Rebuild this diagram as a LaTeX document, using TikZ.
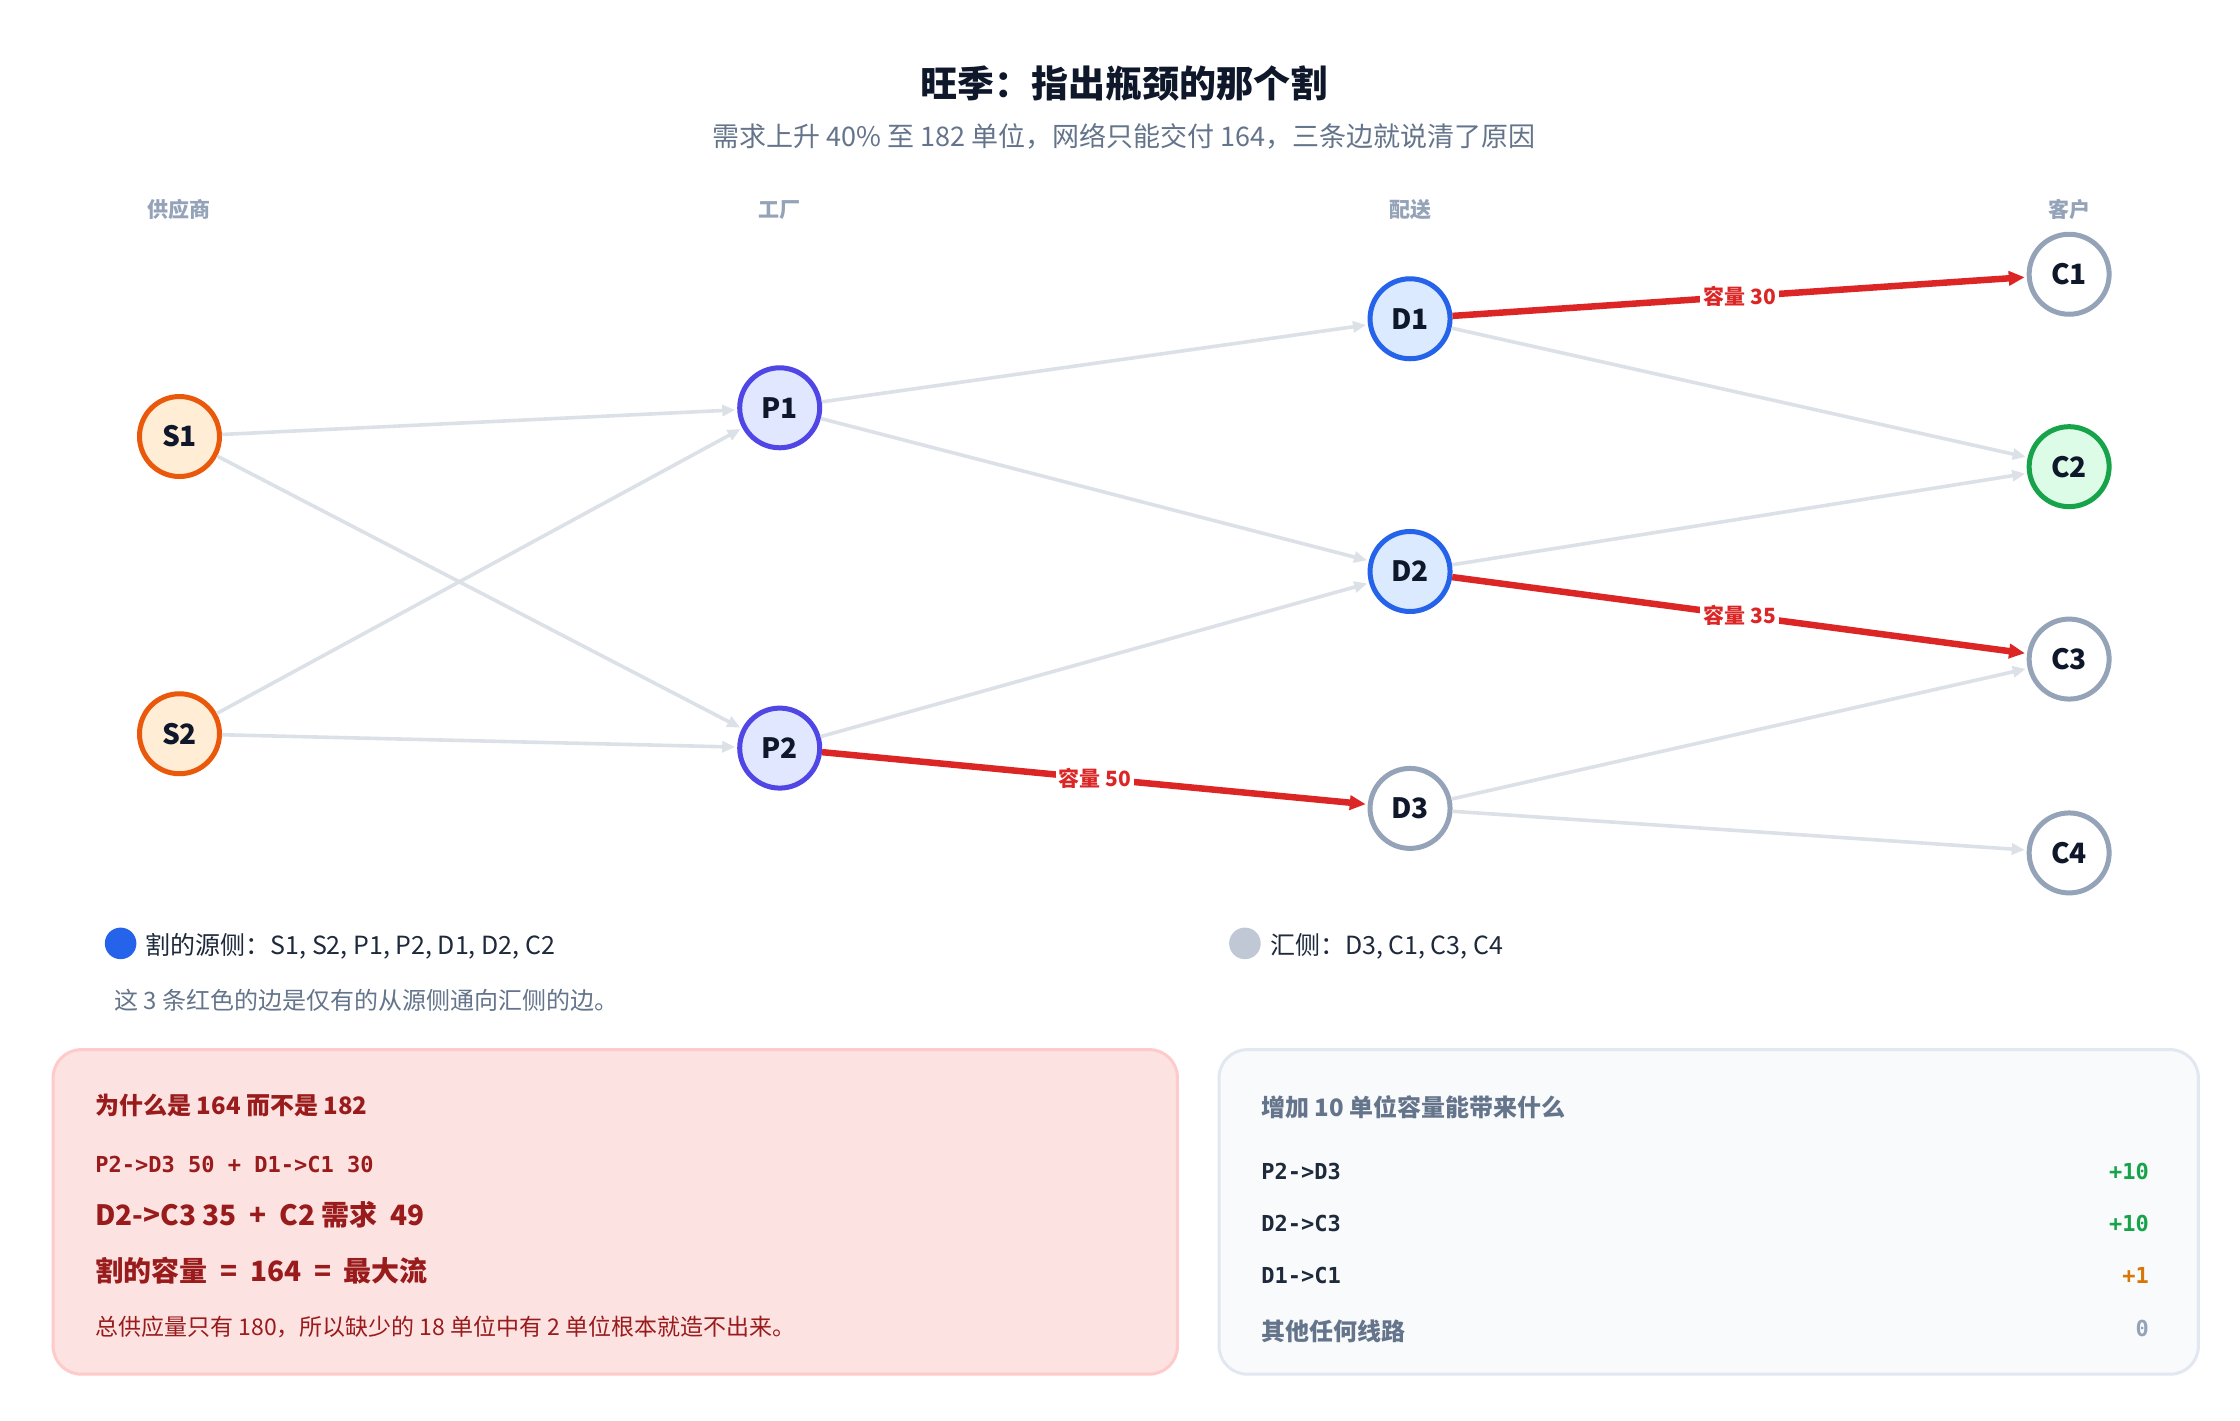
\documentclass[tikz,border=0pt]{standalone}
\usepackage{fontspec}
\setmainfont{Noto Sans CJK SC}
\setsansfont{Noto Sans CJK SC}
\setmonofont{DejaVu Sans Mono}
\usetikzlibrary{arrows.meta}
\definecolor{ttl}{HTML}{0F172A}
\definecolor{sub}{HTML}{64748B}
\definecolor{col}{HTML}{94A3B8}
\definecolor{edge}{HTML}{DCE1E8}
\definecolor{red}{HTML}{DC2626}
\definecolor{dred}{HTML}{991B1B}
\definecolor{sline}{HTML}{EA580C}\definecolor{sfill}{HTML}{FFEDD5}
\definecolor{pline}{HTML}{4F46E5}\definecolor{pfill}{HTML}{E0E7FF}
\definecolor{dline}{HTML}{2563EB}\definecolor{dfill}{HTML}{DBEAFE}
\definecolor{gline}{HTML}{94A3B8}
\definecolor{cline}{HTML}{16A34A}\definecolor{cfill}{HTML}{DCFCE7}
\definecolor{rbox}{HTML}{FDE2E2}\definecolor{rboxl}{HTML}{FECACA}
\definecolor{gbox}{HTML}{F8FAFC}\definecolor{gboxl}{HTML}{E2E8F0}
\definecolor{slate}{HTML}{1E293B}
\definecolor{orng}{HTML}{D97706}
\begin{document}
\begin{tikzpicture}[x=1.436pt,y=-1.436pt,
  nd/.style={circle,line width=5pt,minimum size=80pt,inner sep=0pt,font=\fontsize{28}{30}\selectfont\bfseries,text=ttl},
  sN/.style={nd,draw=sline,fill=sfill},
  pN/.style={nd,draw=pline,fill=pfill},
  dN/.style={nd,draw=dline,fill=dfill},
  gN/.style={nd,draw=gline,fill=white},
  cN/.style={nd,draw=cline,fill=cfill},
  ge/.style={draw=edge,line width=3.6pt,-{Triangle[length=13pt,width=11pt]},shorten >=2pt},
  re/.style={draw=red,line width=6.5pt,-{Triangle[length=16pt,width=14pt]},shorten >=2pt},
  lab/.style={fill=white,text=red,font=\fontsize{21}{23}\selectfont\bfseries,inner sep=3pt},
  colh/.style={text=col,font=\fontsize{21}{23}\selectfont\bfseries},
  mono/.style={font=\fontsize{22}{24}\selectfont\ttfamily\bfseries,anchor=west},
]
\useasboundingbox (0,0) rectangle (1560,989);
\fill[white] (0,0) rectangle (1560,989);
\node[text=ttl,font=\fontsize{37}{40}\selectfont\bfseries] (title) at (783,58) {旺季：指出瓶颈的那个割};
\node[text=sub,font=\fontsize{27}{30}\selectfont] (subt) at (783,95) {需求上升 40\% 至 182 单位，网络只能交付 164，三条边就说清了原因};
\node[colh] (h1) at (125,146) {供应商};
\node[colh] (h2) at (543,146) {工厂};
\node[colh] (h3) at (982,146) {配送};
\node[colh] (h4) at (1441,146) {客户};

\node[sN] (S1) at (125,304) {S1};
\node[sN] (S2) at (125,511) {S2};
\node[pN] (P1) at (543,284) {P1};
\node[pN] (P2) at (543,521) {P2};
\node[dN] (D1) at (982,222) {D1};
\node[dN] (D2) at (982,398) {D2};
\node[gN] (D3) at (982,563) {D3};
\node[gN] (C1) at (1441,191) {C1};
\node[cN] (C2) at (1441,325) {C2};
\node[gN] (C3) at (1441,459) {C3};
\node[gN] (C4) at (1441,594) {C4};

\foreach \a/\b in {S1/P1,S1/P2,S2/P1,S2/P2,P1/D1,P1/D2,P2/D2,D1/C2,D2/C2,D3/C3,D3/C4}
  \draw[ge] (\a) -- (\b);
\draw[re] (P2) -- node[lab,pos=0.5] {容量 50} (D3);
\draw[re] (D1) -- node[lab,pos=0.5] {容量 30} (C1);
\draw[re] (D2) -- node[lab,pos=0.5] {容量 35} (C3);

\fill[dline] (84,657) circle (11);
\node[anchor=west,text=slate,font=\fontsize{25}{28}\selectfont] (lg1) at (99,659) {割的源侧：S1, S2, P1, P2, D1, D2, C2};
\fill[gline!60] (867,657) circle (11);
\node[anchor=west,text=slate,font=\fontsize{25}{28}\selectfont] (lg2) at (882,659) {汇侧：D3, C1, C3, C4};
\node[anchor=west,text=sub,font=\fontsize{24}{27}\selectfont] (note) at (77,697) {这 3 条红色的边是仅有的从源侧通向汇侧的边。};

\draw[rboxl,fill=rbox,line width=3pt,rounded corners=28pt] (37,731) rectangle (820,957);
\node[anchor=west,text=dred,font=\fontsize{24}{26}\selectfont\bfseries] (b1) at (64,770) {为什么是 164 而不是 182};
\node[mono,text=dred] (b2) at (64,811) {P2->D3  50   +   D1->C1  30};
\node[anchor=west,text=dred,font=\fontsize{28}{30}\selectfont\bfseries] (b3) at (64,846) {D2->C3 35 \ + \ C2 需求 \ 49};
\node[anchor=west,text=dred,font=\fontsize{28}{30}\selectfont\bfseries] (b4) at (64,885) {割的容量 \ = \ 164 \ = \ 最大流};
\node[anchor=west,text=dred,font=\fontsize{23}{26}\selectfont] (b5) at (64,924) {总供应量只有 180，所以缺少的 18 单位中有 2 单位根本就造不出来。};

\draw[gboxl,fill=gbox,line width=3pt,rounded corners=28pt] (849,731) rectangle (1531,957);
\node[anchor=west,text=sub,font=\fontsize{24}{26}\selectfont\bfseries] (r0) at (876,771) {增加 10 单位容量能带来什么};
\node[mono,text=slate] (r1) at (876,816) {P2->D3};
\node[mono,text=slate] (r2) at (876,852) {D2->C3};
\node[mono,text=slate] (r3) at (876,888) {D1->C1};
\node[anchor=west,text=sub,font=\fontsize{24}{26}\selectfont\bfseries] (r4) at (876,927) {其他任何线路};
\node[mono,anchor=east,text=cline] (v1) at (1499,816) {+10};
\node[mono,anchor=east,text=cline] (v2) at (1499,852) {+10};
\node[mono,anchor=east,text=orng] (v3) at (1499,888) {+1};
\node[mono,anchor=east,text=col] (v4) at (1499,925) {0};
\end{tikzpicture}
\end{document}
